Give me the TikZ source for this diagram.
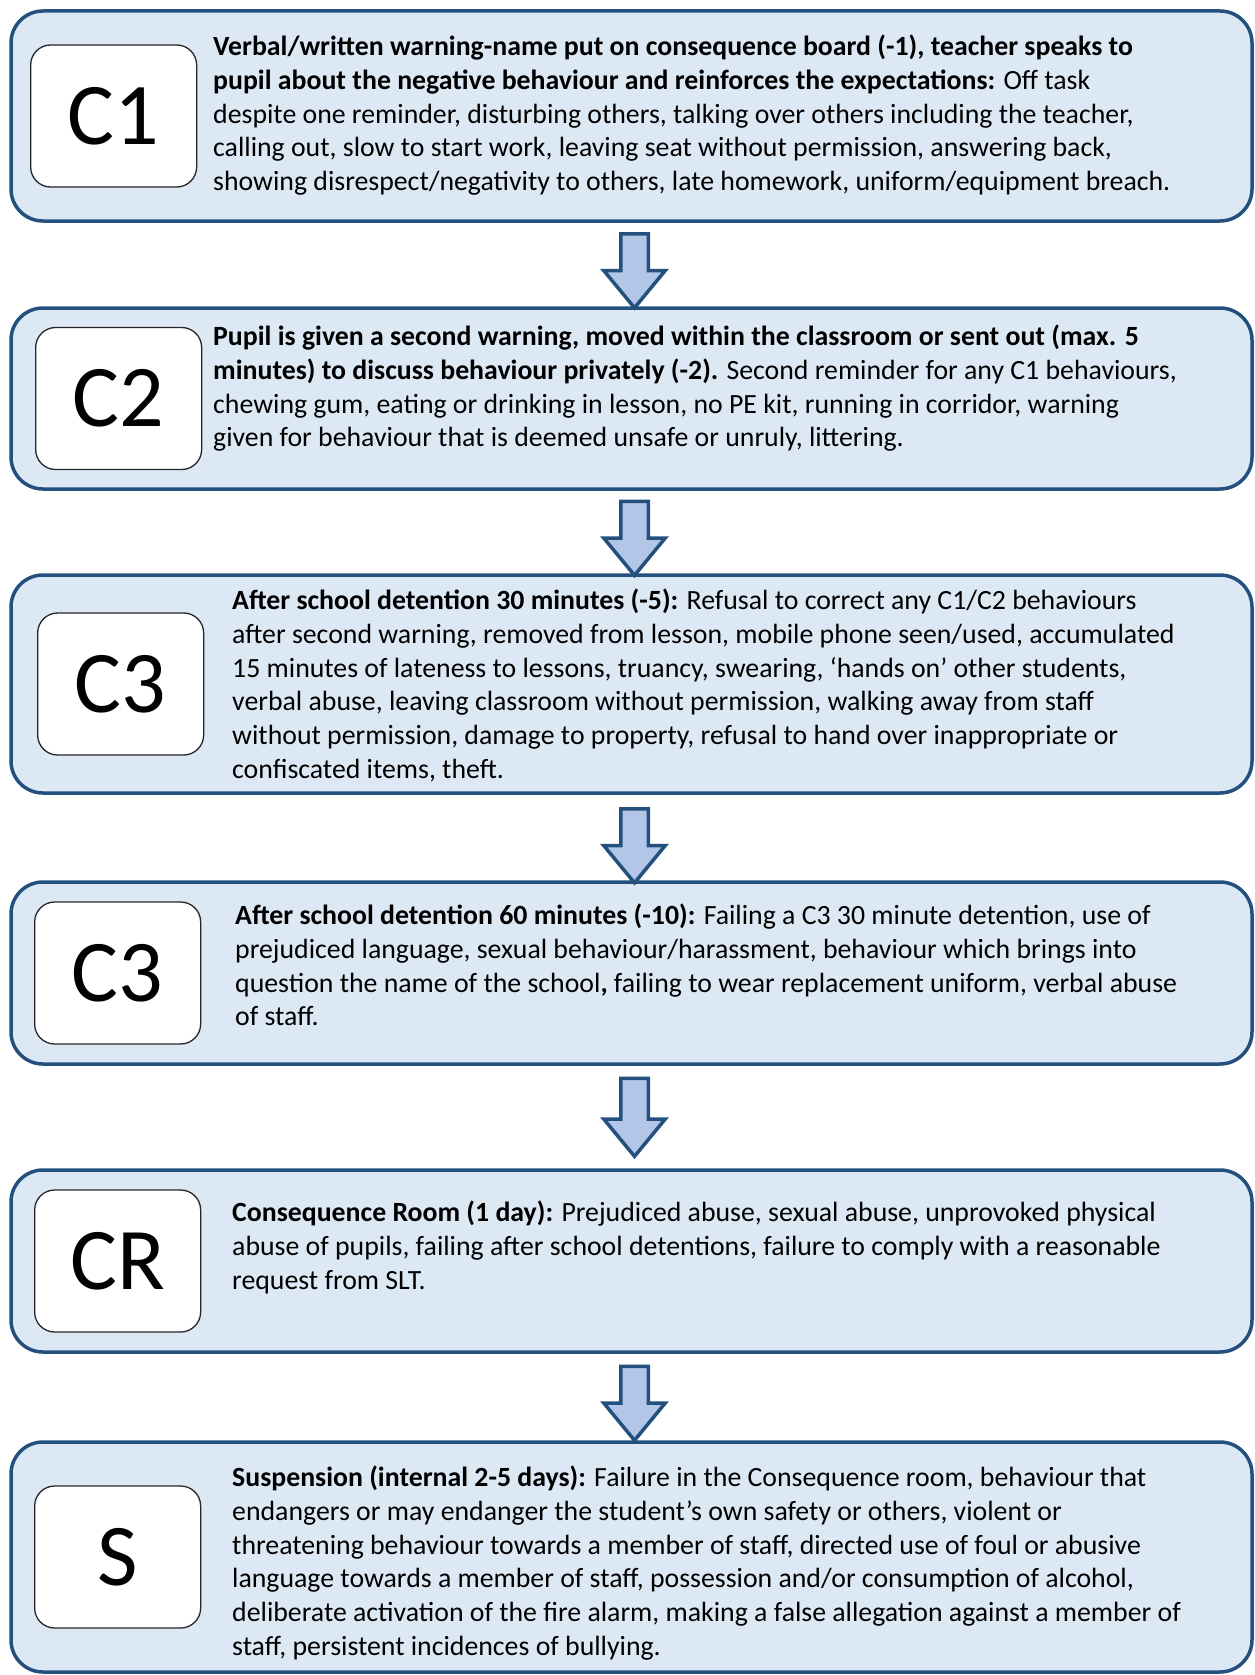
\documentclass[tikz,border=0pt]{standalone}
\usepackage{fontspec}
\setmainfont{Carlito}
\usetikzlibrary{shapes.arrows, positioning}
\definecolor{bordo}{RGB}{36,80,126}
\definecolor{sfondo}{RGB}{221,232,245}
\definecolor{freccia}{RGB}{180,198,231}
\tikzset{
  stage/.style  = {rectangle, draw=bordo, line width=3.5pt, fill=sfondo, rounded corners=32pt,
                   minimum width=1241pt, outer sep=0pt, inner sep=0pt},
  badge/.style  = {rectangle, draw=black!85, line width=1.3pt, fill=white, rounded corners=20pt,
                   minimum width=166pt, minimum height=142pt, inner sep=0pt,
                   font=\fontsize{88}{88}\selectfont},
  descr/.style  = {anchor=north west, align=left, inner sep=0pt,
                   font=\fontsize{27.8}{33.7}\selectfont},
  down/.style   = {single arrow, shape border rotate=270, draw=bordo, line width=3.5pt, fill=freccia,
                   minimum height=74pt, minimum width=58pt, inner sep=12pt,
                   single arrow head extend=17pt, single arrow tip angle=79, xshift=3pt, yshift=2pt}
}
\begin{document}
\begin{tikzpicture}
  \useasboundingbox (0,0) rectangle (1254pt,-1675pt);

  % livelli
  \node[stage, minimum height=210pt, anchor=north west] (b1) at (11pt,-11pt) {};
  \node[stage, minimum height=181pt, below=87pt of b1]  (b2) {};
  \node[stage, minimum height=218pt, below=86pt of b2]  (b3) {};
  \node[stage, minimum height=182pt, below=89pt of b3]  (b4) {};
  \node[stage, minimum height=182pt, below=106pt of b4] (b5) {};
  \node[stage, minimum height=230pt, below=90pt of b5]  (b6) {};

  % sigle
  \node[badge, anchor=west] (c1) at ([xshift=19pt]b1.west) {C1};
  \node[badge, anchor=west] (c2) at ([xshift=24pt]b2.west) {C2};
  \node[badge, anchor=west] (c3) at ([xshift=26pt]b3.west) {C3};
  \node[badge, anchor=west] (c4) at ([xshift=23pt]b4.west) {C3};
  \node[badge, anchor=west] (cr) at ([xshift=23pt]b5.west) {CR};
  \node[badge, anchor=west] (cs) at ([xshift=23pt]b6.west) {S};

  % testi
  \node[descr] (t1) at ([xshift=202pt, yshift=-24pt]b1.north west) {%
    \textbf{Verbal/written warning-name put on consequence board (-1), teacher speaks to}\\
    \textbf{pupil about the negative behaviour and reinforces the expectations:} Off task\\
    despite one reminder, disturbing others, talking over others including the teacher,\\
    calling out, slow to start work, leaving seat without permission, answering back,\\
    showing disrespect/negativity to others, late homework, uniform/equipment breach.};
  \node[descr] (t2) at ([xshift=202pt, yshift=-17pt]b2.north west) {%
    \textbf{Pupil is given a second warning, moved within the classroom or sent out (max. 5}\\
    \textbf{minutes) to discuss behaviour privately (-2).} Second reminder for any C1 behaviours,\\
    chewing gum, eating or drinking in lesson, no PE kit, running in corridor, warning\\
    given for behaviour that is deemed unsafe or unruly, littering.};
  \node[descr] (t3) at ([xshift=221pt, yshift=-14pt]b3.north west) {%
    \textbf{After school detention 30 minutes (-5):} Refusal to correct any C1/C2 behaviours\\
    after second warning, removed from lesson, mobile phone seen/used, accumulated\\
    15 minutes of lateness to lessons, truancy, swearing, ‘hands on’ other students,\\
    verbal abuse, leaving classroom without permission, walking away from staff\\
    without permission, damage to property, refusal to hand over inappropriate or\\
    confiscated items, theft.};
  \node[descr] (t4) at ([xshift=224pt, yshift=-22pt]b4.north west) {%
    \textbf{After school detention 60 minutes (-10):} Failing a C3 30 minute detention, use of\\
    prejudiced language, sexual behaviour/harassment, behaviour which brings into\\
    question the name of the school\textbf{,} failing to wear replacement uniform, verbal abuse\\
    of staff.};
  \node[descr] (t5) at ([xshift=221pt, yshift=-31pt]b5.north west) {%
    \textbf{Consequence Room (1 day):} Prejudiced abuse, sexual abuse, unprovoked physical\\
    abuse of pupils, failing after school detentions, failure to comply with a reasonable\\
    request from SLT.};
  \node[descr] (t6) at ([xshift=221pt, yshift=-24pt]b6.north west) {%
    \textbf{Suspension (internal 2-5 days):} Failure in the Consequence room, behaviour that\\
    endangers or may endanger the student’s own safety or others, violent or\\
    threatening behaviour towards a member of staff, directed use of foul or abusive\\
    language towards a member of staff, possession and/or consumption of alcohol,\\
    deliberate activation of the fire alarm, making a false allegation against a member of\\
    staff, persistent incidences of bullying.};

  % frecce
  \path (b1.south) -- (b2.north) node[midway, down] (a1) {};
  \path (b2.south) -- (b3.north) node[midway, down] (a2) {};
  \path (b3.south) -- (b4.north) node[midway, down, yshift=-2pt] (a3) {};
  \path (b4.south) -- (b5.north) node[midway, down, yshift=6pt, minimum height=78pt] (a4) {};
  \path (b5.south) -- (b6.north) node[midway, down] (a5) {};

\end{tikzpicture}
\end{document}
